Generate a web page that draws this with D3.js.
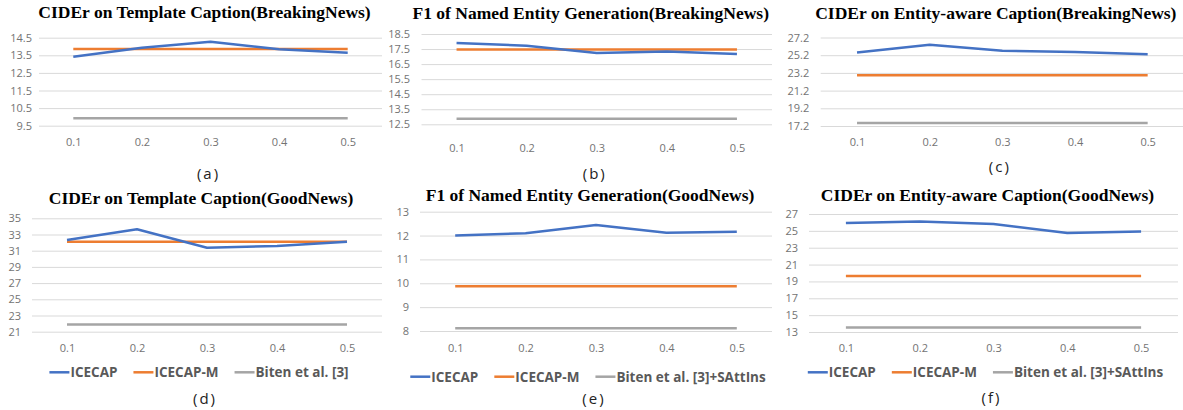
<!DOCTYPE html>
<html lang="en">
<head>
<meta charset="UTF-8">
<title>ICECAP sensitivity</title>
<script src="https://cdn.jsdelivr.net/npm/d3@7"></script>
<style>
    body { margin: 0; background: #fff; }
    .title { font-family: "Liberation Serif", "Times New Roman", serif; font-weight: bold; font-size: 17.5px; fill: #000; }
    .tick text { font-family: "Open Sans", sans-serif; font-size: 11px; fill: #737373; }
    .grid line { stroke: #d9d9d9; stroke-width: 1; }
    .legend text { font-family: "Open Sans", sans-serif; font-weight: bold; font-size: 13.5px; fill: #595959; }
    .sub { font-family: "Open Sans", sans-serif; font-size: 15px; fill: #222; letter-spacing: 2px; }
</style>
</head>
<body>
<script>
    // x categories (mask ratio)
    var xLabels = ["0.1", "0.2", "0.3", "0.4", "0.5"];
    var seriesNames = ["ICECAP", "ICECAP-M", "Biten et al. [3]"];
    var seriesNamesIns = ["ICECAP", "ICECAP-M", "Biten et al. [3]+SAttIns"];
    var colors = ["#4472c4", "#ed7d31", "#a5a5a5"];

    // (a) CIDEr on Template Caption, BreakingNews
    var icecapA = [13.42, 13.93, 14.27, 13.84, 13.65];
    var icecapMA = [13.86, 13.86, 13.86, 13.86, 13.86];
    var bitenA = [9.92, 9.92, 9.92, 9.92, 9.92];
    var ticksA = [9.5, 10.5, 11.5, 12.5, 13.5, 14.5];

    // (b) F1 of Named Entity Generation, BreakingNews
    var icecapB = [17.9, 17.72, 17.23, 17.34, 17.17];
    var icecapMB = [17.47, 17.47, 17.47, 17.47, 17.47];
    var bitenB = [12.87, 12.87, 12.87, 12.87, 12.87];
    var ticksB = [12.5, 13.5, 14.5, 15.5, 16.5, 17.5, 18.5];

    // (c) CIDEr on Entity-aware Caption, BreakingNews
    var icecapC = [25.5, 26.37, 25.69, 25.57, 25.31];
    var icecapMC = [22.93, 22.93, 22.93, 22.93, 22.93];
    var bitenC = [17.54, 17.54, 17.54, 17.54, 17.54];
    var ticksC = [17.2, 19.2, 21.2, 23.2, 25.2, 27.2];

    // (d) CIDEr on Template Caption, GoodNews
    var icecapD = [32.32, 33.64, 31.37, 31.58, 32.11];
    var icecapMD = [32.11, 32.11, 32.11, 32.11, 32.11];
    var bitenD = [21.9, 21.9, 21.9, 21.9, 21.9];
    var ticksD = [21, 23, 25, 27, 29, 31, 33, 35];

    // (e) F1 of Named Entity Generation, GoodNews
    var icecapE = [12.0, 12.1, 12.44, 12.12, 12.16];
    var icecapME = [9.88, 9.88, 9.88, 9.88, 9.88];
    var bitenE = [8.12, 8.12, 8.12, 8.12, 8.12];
    var ticksE = [8, 9, 10, 11, 12, 13];

    // (f) CIDEr on Entity-aware Caption, GoodNews
    var icecapF = [25.93, 26.12, 25.8, 24.74, 24.93];
    var icecapMF = [19.65, 19.65, 19.65, 19.65, 19.65];
    var bitenF = [13.53, 13.53, 13.53, 13.53, 13.53];
    var ticksF = [13, 15, 17, 19, 21, 23, 25, 27];

    var panels = [
        { title: "CIDEr on Template Caption(BreakingNews)", sub: "(a)", series: [icecapA, icecapMA, bitenA], ticks: ticksA,
          x0: 39, x1: 382, yb: 125.7, yt: 37.7, pad: 7, titleY: 11.5, xlabY: 141.7, subY: 172.5, legend: null },
        { title: "F1 of Named Entity Generation(BreakingNews)", sub: "(b)", series: [icecapB, icecapMB, bitenB], ticks: ticksB,
          x0: 421.5, x1: 772, yb: 124.3, yt: 34, pad: 11.5, titleY: 13, xlabY: 148, subY: 172.5, legend: null },
        { title: "CIDEr on Entity-aware Caption(BreakingNews)", sub: "(c)", series: [icecapC, icecapMC, bitenC], ticks: ticksC,
          x0: 820.7, x1: 1184, yb: 126, yt: 37.5, pad: 11.5, titleY: 13, xlabY: 141.7, subY: 165.5, legend: null },
        { title: "CIDEr on Template Caption(GoodNews)", sub: "(d)", series: [icecapD, icecapMD, bitenD], ticks: ticksD,
          x0: 32, x1: 382, yb: 331.7, yt: 218.3, pad: 11, titleY: 197.5, xlabY: 347.7, subY: 398, legend: seriesNames, legY: 372.3 },
        { title: "F1 of Named Entity Generation(GoodNews)", sub: "(e)", series: [icecapE, icecapME, bitenE], ticks: ticksE,
          x0: 420, x1: 772, yb: 331, yt: 211.7, pad: 11, titleY: 195, xlabY: 347.7, subY: 397.5, legend: seriesNamesIns, legY: 376.7 },
        { title: "CIDEr on Entity-aware Caption(GoodNews)", sub: "(f)", series: [icecapF, icecapMF, bitenF], ticks: ticksF,
          x0: 809, x1: 1178, yb: 332, yt: 214, pad: 11, titleY: 195, xlabY: 347.7, subY: 397, legend: seriesNamesIns, legY: 372.3 }
    ];

    var svg = d3.select("body").append("svg")
        .attr("width", 1183)
        .attr("height", 410);

    panels.forEach(function(p) {
        var g = svg.append("g");
        var x = d3.scalePoint().domain(xLabels).range([p.x0, p.x1]).padding(0.5);
        var y = d3.scaleLinear().domain([p.ticks[0], p.ticks[p.ticks.length - 1]]).range([p.yb, p.yt]);
        var mid = (p.x0 + Math.min(p.x1, 1183)) / 2;

        // gridlines + y tick labels
        var gy = g.append("g").attr("class", "grid")
            .attr("transform", "translate(" + p.x0 + ",0)")
            .call(d3.axisLeft(y).tickValues(p.ticks).tickSize(-(p.x1 - p.x0)).tickPadding(p.pad).tickFormat(function(d) { return String(d); }));
        gy.select(".domain").remove();

        // x labels
        var gx = g.append("g")
            .attr("transform", "translate(0," + (p.xlabY - 4) + ")")
            .call(d3.axisBottom(x).tickSize(0).tickPadding(0));
        gx.select(".domain").remove();

        var line = d3.line()
            .x(function(d, i) { return x(xLabels[i]); })
            .y(function(d) { return y(d); });

        // gray first, then orange, blue on top
        [2, 1, 0].forEach(function(k) {
            g.append("path")
                .datum(p.series[k])
                .attr("d", line)
                .attr("fill", "none")
                .attr("stroke", colors[k])
                .attr("stroke-width", 2.5)
                .attr("stroke-linejoin", "round");
        });

        g.append("text").attr("class", "title")
            .attr("x", mid - 6).attr("y", p.titleY)
            .attr("text-anchor", "middle").attr("dominant-baseline", "central")
            .text(p.title);

        g.append("text").attr("class", "sub")
            .attr("x", mid - 2).attr("y", p.subY)
            .attr("text-anchor", "middle").attr("dominant-baseline", "central")
            .text(p.sub);

        if (p.legend) {
            var lg = g.append("g").attr("class", "legend");
            var cursor = 0;
            p.legend.forEach(function(name, k) {
                var it = lg.append("g").attr("transform", "translate(" + cursor + ",0)");
                it.append("line").attr("x1", 0).attr("x2", 20).attr("y1", 0).attr("y2", 0)
                    .attr("stroke", colors[k]).attr("stroke-width", 2.5);
                var t = it.append("text").attr("x", 21).attr("y", 0)
                    .attr("dominant-baseline", "central").text(name);
                cursor += 21 + t.node().getComputedTextLength() + 16;
            });
            var total = cursor - 16;
            lg.attr("transform", "translate(" + (mid - 8 - total / 2) + "," + p.legY + ")");
        }
    });
</script>
</body>
</html>
